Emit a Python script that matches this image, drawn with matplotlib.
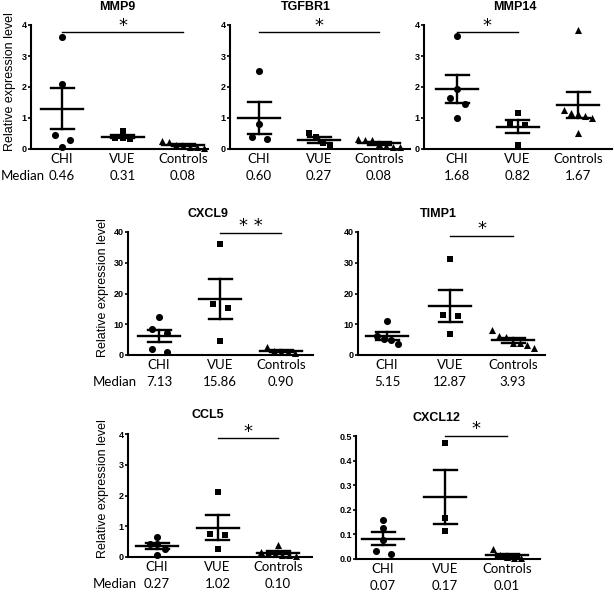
# Scatter dot plots (mean +/- SEM) of relative expression levels, seven genes

import numpy as np
import matplotlib.pyplot as plt

W, H = 614, 597

groups = ['CHI', 'VUE', 'Controls']

# values
mmp9_chi = [3.6, 2.1, 0.45, 0.3, 0.08]
mmp9_vue = [0.58, 0.36, 0.34, 0.33]
mmp9_ctrl = [0.25, 0.22, 0.12, 0.1, 0.08, 0.05, 0.03]
mmp9_median = ['0.46', '0.31', '0.08']

tgfbr1_chi = [2.5, 0.8, 0.38, 0.32]
tgfbr1_vue = [0.5, 0.38, 0.18, 0.12]
tgfbr1_ctrl = [0.32, 0.3, 0.28, 0.15, 0.1, 0.08, 0.05]
tgfbr1_median = ['0.60', '0.27', '0.08']

mmp14_chi = [3.65, 1.95, 1.65, 1.45, 1.0]
mmp14_vue = [1.15, 0.85, 0.78, 0.12]
mmp14_ctrl = [3.85, 1.25, 1.15, 1.12, 1.05, 1.0, 0.5]
mmp14_median = ['1.68', '0.82', '1.67']

cxcl9_chi = [12.2, 8.5, 7.2, 2.0, 1.0]
cxcl9_vue = [36.0, 16.5, 15.2, 4.7]
cxcl9_ctrl = [2.5, 1.4, 0.9, 0.9, 0.6]
cxcl9_median = ['7.13', '15.86', '0.90']

timp1_chi = [10.9, 6.3, 5.15, 4.8, 3.5]
timp1_vue = [31.2, 13.0, 12.7, 6.8]
timp1_ctrl = [8.2, 6.3, 6.0, 3.93, 3.8, 3.2, 2.4]
timp1_median = ['5.15', '12.87', '3.93']

ccl5_chi = [0.65, 0.43, 0.42, 0.27, 0.05]
ccl5_vue = [2.1, 0.74, 0.71, 0.27]
ccl5_ctrl = [0.4, 0.15, 0.12, 0.1, 0.08, 0.05, 0.02]
ccl5_median = ['0.27', '1.02', '0.10']

cxcl12_chi = [0.159, 0.125, 0.077, 0.034, 0.019]
cxcl12_vue = [0.473, 0.168, 0.115]
cxcl12_ctrl = [0.04, 0.015, 0.01, 0.005, 0.003]
cxcl12_median = ['0.07', '0.17', '0.01']

# (title, data, medians, ymax, ystep, tick fmt, sig pair, sig label, sig line y, star y)
panels = [
    ('MMP9', [mmp9_chi, mmp9_vue, mmp9_ctrl], mmp9_median, 4, 1, '%d', (0, 2), '*', 3.77, 3.98),
    ('TGFBR1', [tgfbr1_chi, tgfbr1_vue, tgfbr1_ctrl], tgfbr1_median, 4, 1, '%d', (0, 2), '*', 3.77, 3.98),
    ('MMP14', [mmp14_chi, mmp14_vue, mmp14_ctrl], mmp14_median, 4, 1, '%d', (0, 1), '*', 3.77, 3.98),
    ('CXCL9', [cxcl9_chi, cxcl9_vue, cxcl9_ctrl], cxcl9_median, 40, 10, '%d', (1, 2), '* *', 39.8, 41.9),
    ('TIMP1', [timp1_chi, timp1_vue, timp1_ctrl], timp1_median, 40, 10, '%d', (1, 2), '*', 38.7, 41.0),
    ('CCL5', [ccl5_chi, ccl5_vue, ccl5_ctrl], ccl5_median, 4, 1, '%d', (1, 2), '*', 3.88, 4.08),
    ('CXCL12', [cxcl12_chi, cxcl12_vue, cxcl12_ctrl], cxcl12_median, 0.5, 0.1, '%.1f', (1, 2), '*', 0.501, 0.528),
]

# layout in pixels: axis left, axis right, y top, y bottom, first group x, group spacing,
# title x, title y, ylabel (x, y) or None, "Median" x or None
layout = [
    (31, 208, 25, 149, 62, 60.5, 117, 7, (10, 82), 1),
    (230, 410, 25, 149, 259, 60, 306, 7, None, None),
    (424, 612, 25, 149, 457, 60.5, 515, 7, None, None),
    (128, 313, 232, 355, 159, 61, 208, 214, (103, 288), 93),
    (358, 545, 232, 355, 387, 63, 438, 214, None, None),
    (128, 312, 434, 557, 157, 60.5, 208, 415, (103, 489), 93),
    (356, 540, 436, 559, 383, 62, 436, 418, None, None),
]

markers = ['o', 's', '^']
cal = 'Lato'
arial = 'Liberation Sans'


def swarm(vals, px_y, px_x, diam=6.5):
    vals = np.asarray(vals, dtype=float)
    order = np.argsort(-vals)
    offs = np.zeros(len(vals))
    clusters = [[order[0]]]
    for i in order[1:]:
        if (vals[clusters[-1][-1]] - vals[i]) * px_y < diam:
            clusters[-1].append(i)
        else:
            clusters.append([i])
    for c in clusters:
        k = len(c)
        if k == 1:
            continue
        width = max(15.0, 7.0 * (k - 1))
        for j, idx in zip(np.linspace(-width / 2, width / 2, k), c):
            offs[idx] = j / px_x
    return offs


fig = plt.figure(figsize=(W / 100, H / 100), dpi=100)

for (title, data, med, ymax, ystep, fmt, pair, sig, sig_y, star_y), lay in zip(panels, layout):
    left, right, top, bottom, g1, sp, tx, ty, ylab, med_x = lay
    ax = fig.add_axes([left / W, 1 - bottom / H, (right - left) / W, (bottom - top) / H])
    ax.set_xlim(1 - (g1 - left) / sp, 1 + (right - g1) / sp)
    ax.set_ylim(0, ymax)
    px_y = (bottom - top) / ymax

    for gi, vals in enumerate(data):
        x0 = gi + 1
        offs = swarm(vals, px_y, sp)
        ax.scatter(x0 + offs, vals, marker=markers[gi], s=26 if gi != 1 else 22,
                   color='black', clip_on=False, zorder=3, linewidths=0)
        m = np.mean(vals)
        se = np.std(vals, ddof=1) / np.sqrt(len(vals))
        hw = 21 / sp
        cw = 11.5 / sp
        lo = max(m - se, 0)
        ax.plot([x0 - hw, x0 + hw], [m, m], color='black', lw=1.7, zorder=4, clip_on=False)
        ax.plot([x0, x0], [lo, m + se], color='black', lw=1.7, zorder=4, clip_on=False)
        ax.plot([x0 - cw, x0 + cw], [m + se, m + se], color='black', lw=1.7, zorder=4, clip_on=False)
        ax.plot([x0 - cw, x0 + cw], [lo, lo], color='black', lw=1.7, zorder=4, clip_on=False)

    # significance bar
    a, b = pair[0] + 1, pair[1] + 1
    ax.plot([a, b], [sig_y, sig_y], color='black', lw=1.0, clip_on=False)
    ax.text((a + b) / 2, star_y, sig, ha='center', va='center', fontsize=13,
            family='DejaVu Sans', clip_on=False)

    for s in ['top', 'right']:
        ax.spines[s].set_visible(False)
    for s in ['left', 'bottom']:
        ax.spines[s].set_linewidth(1.5)
    ticks = np.arange(0, ymax + ystep / 2, ystep)
    ax.set_yticks(ticks)
    ax.set_yticklabels([fmt % v for v in ticks], fontsize=6.5, fontweight='bold', family=arial)
    ax.tick_params(axis='y', length=2.5, width=1.2, pad=0.5)
    ax.set_xticks([1, 2, 3])
    ax.set_xticklabels(groups, fontsize=9.5, family=cal)
    ax.tick_params(axis='x', length=0, pad=3)

    if ylab is not None:
        fig.text(ylab[0] / W, 1 - ylab[1] / H, 'Relative expression level', rotation=90,
                 ha='center', va='center', fontsize=9, family=arial)

    # median row
    my = 1 - (bottom + 27) / H
    for gi, t in enumerate(med):
        fig.text((g1 + gi * sp) / W, my, t, ha='center', va='center', fontsize=9.5, family=cal)
    if med_x is not None:
        fig.text(med_x / W, my, 'Median', ha='left', va='center', fontsize=9.5, family=cal)

    fig.text(tx / W, 1 - ty / H, title, ha='center', va='center', fontsize=9,
             fontweight='bold', family=arial)

fig.savefig('out.png', dpi=100, facecolor='white')
